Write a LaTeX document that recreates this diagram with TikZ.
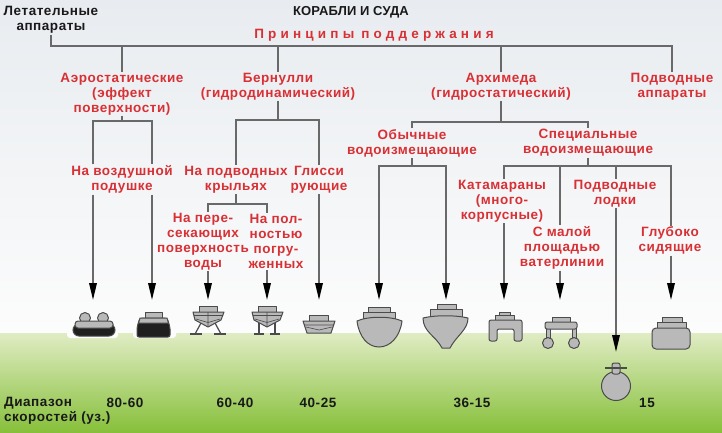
\documentclass[tikz,border=0pt]{standalone}
\usepackage{fontspec}
\setmainfont{Liberation Sans}
\newfontfamily\lblfont[LetterSpace=4]{Liberation Sans Bold}
\newfontfamily\ttlfont[LetterSpace=1]{Liberation Sans Bold}
\newfontfamily\spcfont[LetterSpace=31]{Liberation Sans Bold}
\usetikzlibrary{arrows.meta}
\definecolor{redt}{RGB}{216,48,52}
\definecolor{linec}{RGB}{105,105,105}
\definecolor{hullc}{RGB}{185,185,185}
\definecolor{edgec}{RGB}{75,75,75}
\definecolor{txtc}{RGB}{25,25,25}
\definecolor{skytop}{RGB}{232,236,240}
\definecolor{skybot}{RGB}{252,252,252}
\definecolor{grtop}{RGB}{224,236,196}
\definecolor{grmid}{RGB}{184,218,128}
\definecolor{grbot}{RGB}{135,192,58}
\begin{document}
\begin{tikzpicture}[x=1pt,y=-1pt,
  lbl/.style={text=redt, font=\lblfont\fontsize{13.5}{15}\selectfont, align=center, inner sep=1pt},
  blk/.style={text=txtc, font=\lblfont\fontsize{13.5}{15}\selectfont, align=center, inner sep=1pt},
  conn/.style={draw=linec, line width=1.8pt},
  arr/.style={conn, -{Triangle[length=17pt,width=7.5pt,color=black]}},
  hull/.style={fill=hullc, draw=edgec, line width=1pt, line join=round},
  dark/.style={fill=black!88, draw=edgec, line width=1pt}
]
\useasboundingbox (0,0) rectangle (722,432);
% background
\shade[top color=skytop, bottom color=skybot] (0,0) rectangle (722,333);
\shade[top color=grtop, middle color=grmid, bottom color=grbot] (0,333) rectangle (722,432);
\fill[skybot, rounded corners=3pt] (67,328) rectangle (118,338);
\fill[skybot, rounded corners=3pt] (133,328) rectangle (176,338);

% icon target coordinates
\coordinate (ih1) at (93,300);
\coordinate (ih2) at (152,300);
\coordinate (ih3) at (208,300);
\coordinate (ih4) at (267,300);
\coordinate (ih5) at (319,300);
\coordinate (ih6) at (379,300);
\coordinate (ih7) at (446,300);
\coordinate (ih8) at (504,300);
\coordinate (ih9) at (560,300);
\coordinate (ih10) at (616,352);
\coordinate (ih11) at (671,300);
\coordinate (b0) at (0,46);
\coordinate (b1) at (0,121);
\coordinate (b2) at (0,120);
\coordinate (b3) at (0,204);
\coordinate (b4) at (0,122);
\coordinate (b5) at (0,166);

% texts
\node[blk] (let) at (51,20) {Летательные\\аппараты};
\node[blk, font=\ttlfont\fontsize{13}{14}\selectfont] (title) at (351,12) {КОРАБЛИ И СУДА};
\node[lbl, font=\spcfont\fontsize{13.5}{15}\selectfont] (princ) at (374,35) {Принципы\hspace{7pt}поддержания};
\node[lbl] (aero) at (122,94) {Аэростатические\\(эффект\\поверхности)};
\node[lbl] (bern) at (278,86.5) {Бернулли\\(гидродинамический)};
\node[lbl] (arch) at (501,86.5) {Архимеда\\(гидростатический)};
\node[lbl] (podv) at (672,86.5) {Подводные\\аппараты};
\node[lbl] (vozd) at (122,179.5) {На воздушной\\подушке};
\node[lbl] (kryl) at (236,179.5) {На подводных\\крыльях};
\node[lbl] (glis) at (319,179.5) {Глисси\\рующие};
\node[lbl] (per) at (203,241.5) {На пере-\\секающих\\поверхность\\воды};
\node[lbl] (pol) at (276,241.5) {На пол-\\ностью\\погру-\\женных};
\node[lbl] (obych) at (412,143) {Обычные\\водоизмещающие};
\node[lbl] (spec) at (588,143) {Специальные\\водоизмещающие};
\node[lbl] (kat) at (502,201) {Катамараны\\(много-\\корпусные)};
\node[lbl] (lodk) at (615,193.5) {Подводные\\лодки};
\node[lbl] (mal) at (562,248) {С малой\\площадью\\ватерлинии};
\node[lbl] (glub) at (670,240.5) {Глубоко\\сидящие};
\node[blk, anchor=west, align=left] (diap) at (3,410.5) {Диапазон\\скоростей (уз.)};
\node[blk] (s1) at (125,403) {80-60};
\node[blk] (s2) at (235,403) {60-40};
\node[blk] (s3) at (318,403) {40-25};
\node[blk] (s4) at (472,403) {36-15};
\node[blk] (s5) at (647,403) {15};

% tree connectors
\draw[conn] (let.south) -- (let.south |- b0) -- (podv.north |- b0) -- (podv.north);
\foreach \n in {aero,bern,arch} \draw[conn] (\n.north) -- (\n.north |- b0);

\draw[conn] (aero.south) -- (aero.south |- b1);
\draw[conn] (ih1 |- vozd.north) -- (ih1 |- b1) -- (ih2 |- b1) -- (ih2 |- vozd.north);
\draw[arr] (ih1 |- vozd.south) -- (ih1);
\draw[arr] (ih2 |- vozd.south) -- (ih2);

\draw[conn] (bern.south) -- (bern.south |- b2);
\draw[conn] (kryl.north) -- (kryl.north |- b2) -- (ih5 |- b2) -- (ih5 |- glis.north);
\draw[arr] (ih5 |- glis.south) -- (ih5);

\draw[conn] (kryl.south) -- (kryl.south |- b3);
\draw[conn] (ih3 |- per.north) -- (ih3 |- b3) -- (ih4 |- b3) -- (ih4 |- pol.north);
\draw[arr] (ih3 |- per.south) -- (ih3);
\draw[arr] (ih4 |- pol.south) -- (ih4);

\draw[conn] (arch.south) -- (arch.south |- b4);
\draw[conn] (obych.north) -- (obych.north |- b4) -- (spec.north |- b4) -- (spec.north);

\draw[conn] (obych.south) -- (obych.south |- b5);
\draw[arr] (obych.south |- b5) -- (ih6 |- b5) -- (ih6);
\draw[arr] (obych.south |- b5) -- (ih7 |- b5) -- (ih7);

\draw[conn] (spec.south) -- (spec.south |- b5);
\draw[conn] (ih8 |- kat.north) -- (ih8 |- b5) -- (ih11 |- b5) -- (ih11 |- glub.north);
\draw[conn] (ih9 |- b5) -- (ih9 |- mal.north);
\draw[conn] (ih10 |- b5) -- (ih10 |- lodk.north);
\draw[arr] (ih8 |- kat.south) -- (ih8);
\draw[arr] (ih9 |- mal.south) -- (ih9);
\draw[arr] (ih10 |- lodk.south) -- (ih10);
\draw[arr] (ih11 |- glub.south) -- (ih11);

% icon 1: hovercraft
\draw[hull] (85,318) circle (5.5);
\draw[hull] (103,318) circle (5.5);
\draw[dark, rounded corners=6pt] (73,324) rectangle (115,336);
\draw[hull, rounded corners=3pt] (75,321) rectangle (113,328);
% icon 2: hovercraft
\draw[hull] (145,312) rectangle (162,318);
\draw[dark, rounded corners=2pt] (137,337) -- (137,327) -- (140,318) -- (167,318) -- (170,327) -- (170,337) -- cycle;
\draw[hull] (140,318) -- (167,318) -- (168.5,323) -- (138.5,323) -- cycle;
% icon 3: hydrofoil (surface piercing)
\draw[edgec, line width=1.2pt] (201,323) -- (195,334) (215,323) -- (221,334);
\draw[edgec, line width=1.2pt] (190,334) -- (202,334) (214,334) -- (226,334);
\draw[hull] (199,306) rectangle (217,312);
\draw[hull] (193,312) -- (224,312) -- (221,320) -- (208,327) -- (195,320) -- cycle;
\draw[edgec, line width=0.6pt] (194,315.5) -- (223,315.5) (196,319) -- (208,322.5) -- (220,319) (208,312) -- (208,327);
% icon 4: hydrofoil (fully submerged)
\begin{scope}[xshift=59pt]
\draw[edgec, line width=1.2pt] (200,323) -- (200,334) (216,323) -- (216,334);
\draw[edgec, line width=1.2pt] (195,334) -- (205,334) (211,334) -- (221,334);
\draw[hull] (199,306) rectangle (217,312);
\draw[hull] (193,312) -- (224,312) -- (221,320) -- (208,327) -- (195,320) -- cycle;
\draw[edgec, line width=0.6pt] (194,315.5) -- (223,315.5) (196,319) -- (208,322.5) -- (220,319) (208,312) -- (208,327);
\end{scope}
% icon 5: planing
\draw[hull] (309,315) rectangle (328,321);
\draw[hull] (303,321) -- (335,321) -- (331,333) -- (307,333) -- cycle;
\draw[edgec, line width=0.6pt] (304,325) -- (334,325) (306,327) -- (319,330) -- (332,327);
% icon 6: conventional
\draw[hull] (368,307) rectangle (390,313);
\draw[hull] (363,312) rectangle (395,320);
\draw[hull] (357,321) .. controls (368,316) and (391,316) .. (402,321) .. controls (400,337) and (390,347) .. (379,347) .. controls (368,347) and (359,337) .. (357,321) -- cycle;
% icon 7: deep V
\draw[hull] (437,304) rectangle (456,310);
\draw[hull] (430,309) rectangle (462,317);
\draw[hull] (423,318) .. controls (435,315) and (456,315) .. (468,318) .. controls (468,330) and (456,336) .. (450,348) -- (442,348) .. controls (436,336) and (423,332) .. (423,318) -- cycle;
% icon 8: catamaran
\draw[hull] (499,312) rectangle (510,316);
\draw[hull] (495,315.5) rectangle (514,320);
\draw[hull, rounded corners=2pt] (489,320) -- (522,320) -- (522,341) -- (514,341) -- (514,329) -- (497,329) -- (497,341) -- (489,341) -- cycle;
% icon 9: SWATH
\draw[hull] (552,317) rectangle (570,323);
\draw[hull] (546,328) rectangle (550,340);
\draw[hull] (572,328) rectangle (576,340);
\draw[hull, rounded corners=2pt] (545,322) rectangle (577,329);
\draw[hull] (548,343) circle (5.5);
\draw[hull] (574,343) circle (5.5);
% icon 10: submarine
\draw[hull] (616,386) circle (14.5);
\draw[hull, rounded corners=2pt] (612,363) rectangle (620,374);
\draw[edgec, line width=1.2pt] (605,368) -- (627,368);
% icon 11: deep draft
\draw[hull] (662,317) rectangle (682,323);
\draw[hull] (657,322) rectangle (686,329);
\draw[hull, rounded corners=4pt] (652,328) rectangle (690,349);
\end{tikzpicture}
\end{document}
